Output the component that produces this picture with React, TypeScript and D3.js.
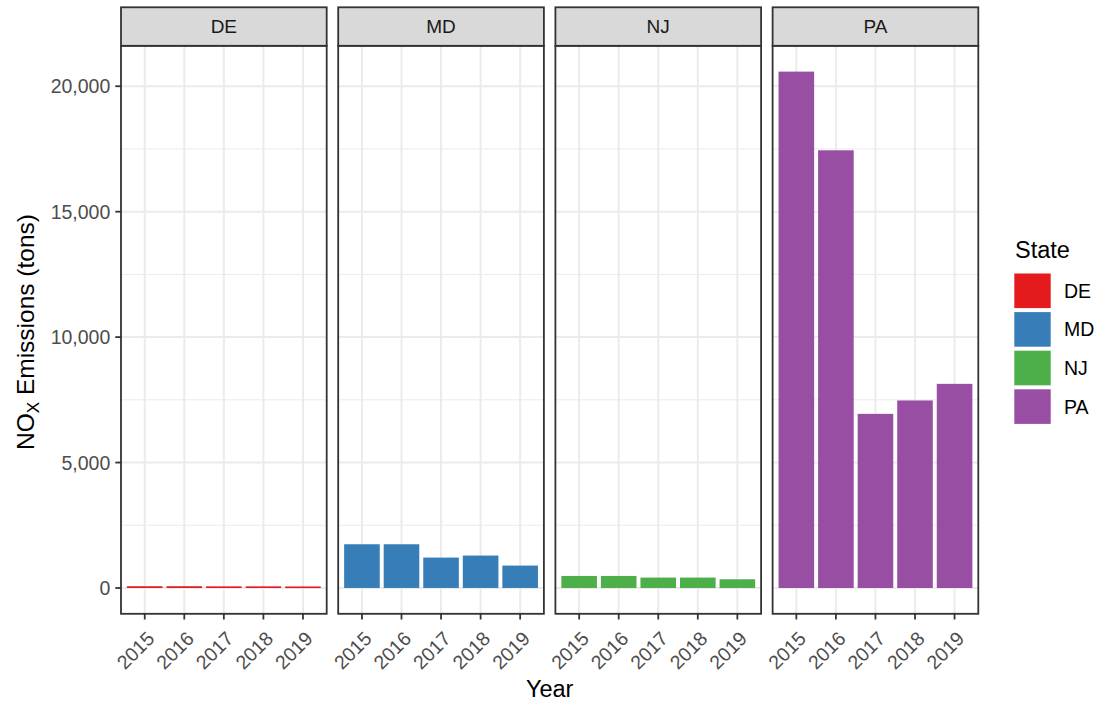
import React from "react";
import * as d3 from "d3";

const states = ["DE", "MD", "NJ", "PA"];
const years = ["2015", "2016", "2017", "2018", "2019"];
const deValues = [70, 70, 65, 65, 60];
const mdValues = [1743, 1743, 1212, 1292, 893];
const njValues = [479, 479, 415, 415, 347];
const paValues = [20583, 17447, 6941, 7475, 8137];
const stateColors = ["#E41A1C", "#377EB8", "#4DAF4A", "#984EA3"];
const yTicks = [0, 5000, 10000, 15000, 20000];
const yMinorTicks = [2500, 7500, 12500, 17500];

const seriesByState: Record<string, number[]> = {
  DE: deValues,
  MD: mdValues,
  NJ: njValues,
  PA: paValues,
};

const FONT = "'Liberation Sans', Arial, Helvetica, sans-serif";

export default function App() {
  const W = 1098;
  const H = 707;
  const plotLeft = 121;
  const plotRight = 978.3;
  const panelTop = 45.8;
  const panelBottom = 613.8;
  const stripTop = 7.3;

  const maxV = d3.max(states.flatMap((s) => seriesByState[s])) as number;
  const y = d3
    .scaleLinear()
    .domain([-0.05 * maxV, 1.05 * maxV])
    .range([panelBottom, panelTop]);

  const facet = d3
    .scaleBand<string>()
    .domain(states)
    .range([plotLeft, plotRight])
    .paddingInner(0.053);
  const pw = facet.bandwidth();

  const x = d3
    .scaleBand<string>()
    .domain(years)
    .range([0, pw])
    .paddingInner(0.1)
    .paddingOuter(0.15);

  const color = d3.scaleOrdinal<string, string>().domain(states).range(stateColors);
  const fmt = d3.format(",");

  const tickLen = 5.7;

  return (
    <svg
      width={W}
      height={H}
      style={{ position: "absolute", left: 0, top: 0, background: "#fff" }}
      fontFamily={FONT}
    >
      <rect x={0} y={0} width={W} height={H} fill="#fff" />
      {states.map((s) => {
        const px = facet(s) as number;
        const vals = seriesByState[s];
        return (
          <g key={s} transform={`translate(${px},0)`}>
            {yMinorTicks.map((t) => (
              <line key={"mi" + t} x1={0} x2={pw} y1={y(t)} y2={y(t)} stroke="#EBEBEB" strokeWidth={1} />
            ))}
            {yTicks.map((t) => (
              <line key={"ma" + t} x1={0} x2={pw} y1={y(t)} y2={y(t)} stroke="#EBEBEB" strokeWidth={2} />
            ))}
            {years.map((yr) => {
              const cx = (x(yr) as number) + x.bandwidth() / 2;
              return (
                <line key={"vx" + yr} x1={cx} x2={cx} y1={panelTop} y2={panelBottom} stroke="#EBEBEB" strokeWidth={2} />
              );
            })}
            {years.map((yr, i) => (
              <rect
                key={"b" + yr}
                x={x(yr) as number}
                width={x.bandwidth()}
                y={y(vals[i])}
                height={Math.max(y(0) - y(vals[i]), 1.6)}
                fill={color(s)}
              />
            ))}
            <rect x={0} y={panelTop} width={pw} height={panelBottom - panelTop} fill="none" stroke="#333333" strokeWidth={1.8} />
            <rect x={0} y={stripTop} width={pw} height={panelTop - stripTop} fill="#D9D9D9" stroke="#333333" strokeWidth={1.8} />
            <text
              x={pw / 2}
              y={(stripTop + panelTop) / 2}
              dy="0.36em"
              textAnchor="middle"
              fontSize={19}
              fill="#1A1A1A"
            >
              {s}
            </text>
            {years.map((yr) => {
              const cx = (x(yr) as number) + x.bandwidth() / 2;
              return (
                <g key={"xt" + yr}>
                  <line x1={cx} x2={cx} y1={panelBottom} y2={panelBottom + tickLen} stroke="#333333" strokeWidth={1.8} />
                  <text
                    transform={`translate(${cx + 1},${panelBottom + tickLen + 10.5}) rotate(-45)`}
                    textAnchor="end"
                    dy="0.72em"
                    fontSize={19.5}
                    fill="#4D4D4D"
                  >
                    {yr}
                  </text>
                </g>
              );
            })}
          </g>
        );
      })}
      {yTicks.map((t) => (
        <g key={"yt" + t}>
          <line x1={plotLeft - tickLen} x2={plotLeft} y1={y(t)} y2={y(t)} stroke="#333333" strokeWidth={1.8} />
          <text x={plotLeft - tickLen - 5} y={y(t)} dy="0.36em" textAnchor="end" fontSize={19.5} fill="#4D4D4D">
            {fmt(t)}
          </text>
        </g>
      ))}
      <text
        transform={`translate(33.5,332) rotate(-90)`}
        textAnchor="middle"
        fontSize={24.5}
        fill="#000"
      >
        NO
        <tspan fontSize={17} dy={5}>X</tspan>
        <tspan dy={-5}> Emissions (tons)</tspan>
      </text>
      <text x={(plotLeft + plotRight) / 2} y={697} textAnchor="middle" fontSize={23.5} fill="#000">
        Year
      </text>
      <text x={1015} y={258} fontSize={23.5} fill="#000">
        State
      </text>
      {states.map((s, i) => {
        const ky = 273.5 + i * 38.6;
        return (
          <g key={"lg" + s}>
            <rect x={1014.3} y={ky} width={36.4} height={34.6} fill={color(s)} />
            <text x={1064} y={ky + 17.3} dy="0.36em" fontSize={19.5} fill="#000">
              {s}
            </text>
          </g>
        );
      })}
    </svg>
  );
}
